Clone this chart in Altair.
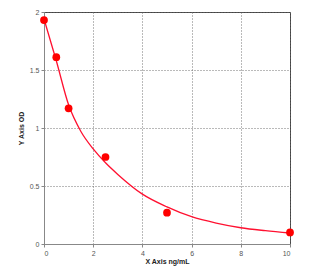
import altair as alt
import pandas as pd

# standard points
px = [0, 0.5, 1, 2.5, 5, 10]
py = [1.93, 1.61, 1.17, 0.75, 0.27, 0.10]

# fitted curve
cx = [0, 0.5, 1, 1.5, 2, 2.5, 3, 4, 5, 6, 7, 8, 9, 10]
cy = [1.94, 1.58, 1.20, 0.97, 0.82, 0.70, 0.60, 0.43, 0.32, 0.235, 0.18, 0.14, 0.115, 0.095]

pts = pd.DataFrame({"x": px, "y": py})
crv = pd.DataFrame({"x": cx, "y": cy})

xs = alt.Scale(domain=[0, 10], nice=False)
ys = alt.Scale(domain=[0, 2], nice=False)

common = dict(grid=True, gridDash=[1, 2], gridColor="#666666", gridOpacity=0.9,
              domainColor="#888888", tickColor="#888888", tickSize=3,
              labelFontSize=7, labelColor="#555555", titleFontSize=7,
              titleFontWeight="bold", titleColor="#222222", labelPadding=2,
              labelFont="Liberation Sans", titleFont="Liberation Sans")

xaxis = alt.Axis(values=[0, 2, 4, 6, 8, 10], title="X Axis ng/mL", titlePadding=1, **common)
yaxis = alt.Axis(values=[0, 0.5, 1, 1.5, 2], title="Y Axis OD", format="~g", titlePadding=5, **common)

line = alt.Chart(crv).mark_line(color="#ff1030", strokeWidth=1.3, interpolate="monotone").encode(
    x=alt.X("x:Q", scale=xs, axis=xaxis),
    y=alt.Y("y:Q", scale=ys, axis=yaxis),
)
points = alt.Chart(pts).mark_circle(color="#ff0000", size=60, opacity=1).encode(
    x=alt.X("x:Q", scale=xs),
    y=alt.Y("y:Q", scale=ys),
)

chart = (line + points).properties(
    width=246, height=232,
    background="white",
    autosize=alt.AutoSizeParams(type="none"),
    padding={"left": 44, "top": 12, "right": 38, "bottom": 31},
).configure_view(stroke="#444444", strokeWidth=1)

chart.save("out.html", embed_options={"renderer": "svg", "actions": False})
